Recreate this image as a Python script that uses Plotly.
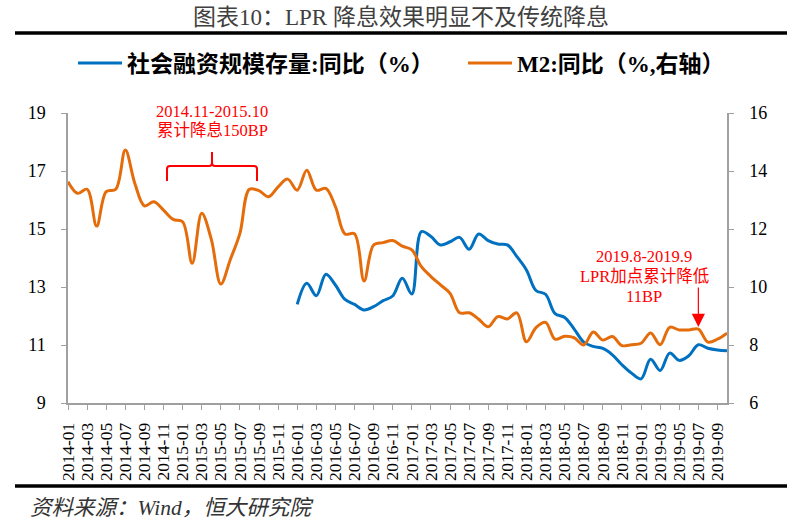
import plotly.graph_objects as go

months = [f"{y}-{m:02d}" for y in range(2014, 2020) for m in range(1, 13)][:70]

m2 = [13.63, 13.23, 13.37, 12.10, 13.29, 13.37, 14.72, 13.57, 12.80, 12.94,
      12.65, 12.33, 12.25, 10.82, 12.54, 11.65, 10.10, 10.95, 11.85, 13.37,
      13.32, 13.11, 13.45, 13.72, 13.34, 14.03, 13.34, 13.40, 12.77, 11.83,
      11.83, 10.21, 11.45, 11.53, 11.60, 11.41, 11.28, 10.70, 10.36, 10.07,
      9.78, 9.11, 9.11, 8.89, 8.63, 8.98, 8.90, 9.11, 8.11, 8.60,
      8.78, 8.20, 8.30, 8.25, 8.00, 8.45, 8.17, 8.29, 7.98, 8.01,
      8.06, 8.41, 8.01, 8.61, 8.52, 8.52, 8.55, 8.10, 8.20, 8.41]

tsf = [None] * 24 + [
      12.40, 13.13, 12.70, 13.44, 13.07, 12.57, 12.40, 12.21, 12.32, 12.53,
      12.69, 13.30, 12.76, 14.91, 14.74, 14.45, 14.56, 14.71, 14.30, 14.83,
      14.60, 14.48, 14.45, 14.05, 13.59, 12.88, 12.75, 12.08, 11.95, 11.55,
      11.10, 10.95, 10.88, 10.66, 10.32, 10.03, 9.83, 10.51, 10.12, 10.72,
      10.47, 10.63, 11.01, 10.89, 10.83, 10.80]

left_ticks = [9, 11, 13, 15, 17, 19]
right_ticks = [6, 8, 10, 12, 14, 16]
x_ticks = months[::2]

BLUE = "#0070C0"
ORANGE = "#E46C0A"
RED = "#FF0000"
AXIS = "#A0A0A0"
SERIF = "Liberation Serif, Times New Roman, Noto Sans CJK SC, serif"

W_FIG, H_FIG = 798, 521
# plot-area edges in reference-picture pixels
L, R, T, B = 68, 727, 113, 403
PW, PH = R - L, B - T


def px(x):
    return (x - L) / PW


def py(y):
    return (B - y) / PH


fig = go.Figure()
fig.add_trace(go.Scatter(x=months, y=tsf, name="社会融资规模存量:同比（%）",
                         mode="lines", line=dict(color=BLUE, width=3, shape="spline", smoothing=1.0),
                         connectgaps=False, legend="legend"))
fig.add_trace(go.Scatter(x=months, y=m2, name="M2:同比（%,右轴）", yaxis="y2",
                         mode="lines", line=dict(color=ORANGE, width=3, shape="spline", smoothing=1.0),
                         legend="legend2"))

leg_font = dict(family=SERIF, size=23, color="black", weight="bold")
fig.update_layout(
    width=W_FIG, height=H_FIG,
    margin=dict(l=L, r=W_FIG - R, t=T, b=H_FIG - B, autoexpand=False),
    paper_bgcolor="white", plot_bgcolor="white",
    showlegend=True,
    legend=dict(orientation="h", x=px(73), xanchor="left", y=py(63), yanchor="middle",
                font=leg_font, bgcolor="rgba(0,0,0,0)", itemwidth=44),
    legend2=dict(orientation="h", x=px(463), xanchor="left", y=py(63), yanchor="middle",
                 font=leg_font, bgcolor="rgba(0,0,0,0)", itemwidth=44),
    title=dict(text="图表10：LPR 降息效果明显不及传统降息", x=401 / W_FIG, xanchor="center",
               y=1 - 17 / H_FIG, yanchor="middle", yref="container",
               font=dict(family=SERIF, size=23, color="#404040")),
    xaxis=dict(type="category", range=[0, len(months) - 1], tickmode="array",
               tickvals=x_ticks, ticktext=x_ticks, tickangle=-90,
               showline=True, linecolor=AXIS, linewidth=1.5, ticks="outside",
               tickcolor=AXIS, ticklen=5, tickwidth=1.2, showgrid=False, zeroline=False,
               ticklabelstandoff=6,
               tickfont=dict(family=SERIF, size=17.5, color="black"), automargin=False),
    yaxis=dict(range=[9, 19], tickvals=left_ticks, showline=True, linecolor=AXIS,
               linewidth=1.5, ticks="outside", tickcolor=AXIS, ticklen=5, tickwidth=1.2,
               showgrid=False, zeroline=False, ticklabelstandoff=12,
               tickfont=dict(family=SERIF, size=18, color="black"), automargin=False),
    yaxis2=dict(range=[6, 16], tickvals=right_ticks, overlaying="y", side="right",
                showline=True, linecolor=AXIS, linewidth=1.5, ticks="outside",
                tickcolor=AXIS, ticklen=5, tickwidth=1.2, showgrid=False, zeroline=False,
                ticklabelstandoff=12,
                tickfont=dict(family=SERIF, size=18, color="black"), automargin=False),
)

# decorative rules
for yy in (33, 486):
    fig.add_shape(type="line", xref="paper", yref="paper", x0=px(15), x1=px(787),
                  y0=py(yy), y1=py(yy), line=dict(color="black", width=3.5))

# brace
bx0, bxm, bx1 = 167, 212, 257
by_bot, by_h, by_top = 181, 166, 152
r = 3
path = (f"M{px(bx0)},{py(by_bot)} L{px(bx0)},{py(by_h + r)} "
        f"Q{px(bx0)},{py(by_h)} {px(bx0 + r)},{py(by_h)} "
        f"L{px(bxm - r)},{py(by_h)} Q{px(bxm)},{py(by_h)} {px(bxm)},{py(by_h - r)} "
        f"L{px(bxm)},{py(by_top)} "
        f"M{px(bxm)},{py(by_h - r)} Q{px(bxm)},{py(by_h)} {px(bxm + r)},{py(by_h)} "
        f"L{px(bx1 - r)},{py(by_h)} Q{px(bx1)},{py(by_h)} {px(bx1)},{py(by_h + r)} "
        f"L{px(bx1)},{py(by_bot)}")
fig.add_shape(type="path", xref="paper", yref="paper", path=path,
              line=dict(color=RED, width=2))

red_font = dict(family=SERIF, size=16.5, color=RED)
for txt, xx, yy in [("2014.11-2015.10", 212, 111), ("累计降息150BP", 212, 130),
                    ("2019.8-2019.9", 644, 256), ("LPR加点累计降低", 644, 276),
                    ("11BP", 644, 296)]:
    fig.add_annotation(text=txt, x=px(xx), y=py(yy), xref="paper", yref="paper",
                       showarrow=False, xanchor="center", yanchor="middle", font=red_font)

fig.add_annotation(x="2019-07", y=16 - (327 - T) / PH * 10, xref="x", yref="y2", text="",
                   showarrow=True, ax=0, ay=-41, arrowhead=2, arrowsize=2.2,
                   arrowwidth=1.2, arrowcolor=RED, standoff=0)

fig.add_annotation(text="<i>资料来源：Wind，恒大研究院</i>", x=px(28), y=py(508),
                   xref="paper", yref="paper", showarrow=False, xanchor="left",
                   yanchor="middle", font=dict(family=SERIF, size=21.5, color="#333333"))

# remove the browser's default 8px body margin so the figure sits at the page origin
fig.write_html("out.html", config={"displayModeBar": False},
               post_script="document.body.style.margin='0';")
